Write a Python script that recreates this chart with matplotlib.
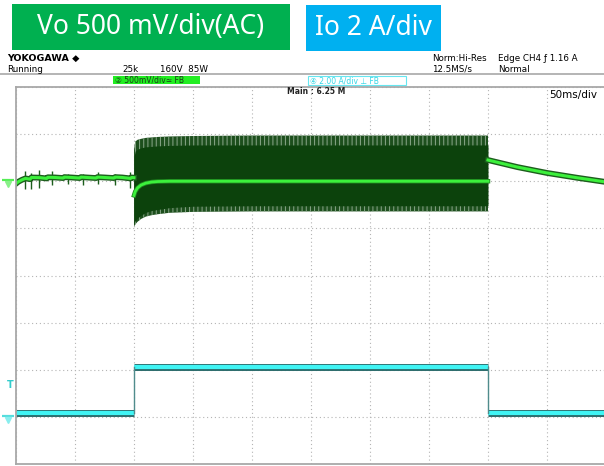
import matplotlib.pyplot as plt
import matplotlib.patheffects as pe
from matplotlib.patches import Rectangle
from matplotlib.lines import Line2D

# --- data ---
# Vo (ch2, AC coupled), mV, time in ms
t_pre = [0, 2, 5, 8, 12, 13, 20, 26, 27, 33, 40, 41, 47, 54, 55, 60, 68, 69, 75, 83, 84, 90, 97, 98, 100]
v_pre = [-25, -5, 15, 30, 22, 40, 38, 30, 42, 40, 34, 44, 40, 34, 44, 40, 34, 44, 40, 34, 44, 40, 30, 40, 38]

spike_t = [7.6, 12.7, 19.5, 30.5, 44, 57, 69.5, 84, 97]
spike_hi = [110, 90, 120, 110, 80, 75, 100, 80, 100]
spike_lo = [-80, -80, -70, -40, -30, -40, -30, -40, -70]

t_load = [100, 101, 103, 106, 110, 115, 120, 130, 150, 200, 250, 300, 350, 400]
v_mean = [-150, -110, -70, -40, -20, -8, -3, 0, 0, 0, 0, 0, 0, 0]
v_top_body = [260, 320, 340, 355, 365, 370, 375, 380, 385, 385, 385, 385, 385, 385]
v_top_peak = [330, 420, 440, 450, 460, 465, 470, 475, 480, 485, 485, 485, 485, 485]
v_bot_body = [-450, -420, -390, -360, -330, -310, -300, -280, -265, -260, -260, -260, -260, -260]
v_bot_peak = [-480, -460, -430, -400, -375, -360, -350, -335, -325, -320, -320, -320, -320, -320]

t_post = [400, 401, 410, 425, 450, 475, 500]
v_post = [225, 222, 195, 150, 88, 38, -8]

# Io (ch4), A
io_edges = [0, 100, 400, 500]
io_levels = [0.15, 2.12, 0.15]

vo_scale = 500.0   # mV/div
io_scale = 2.0     # A/div
vo_offset = 6      # div from bottom
io_offset = 1
trig_level = 1.16  # A

W, H = 604, 466


def fx(x):
    return x / W


def fy(y):
    return 1 - y / H


def vo(vals):
    return [vo_offset + v / vo_scale for v in vals]


plt.rcParams['hatch.linewidth'] = 0.7

fig = plt.figure(figsize=(6.04, 4.66), dpi=100)
fig.patch.set_facecolor('white')

ax = fig.add_axes([fx(16), fy(464), 590 / W, (464 - 87) / H])
ax.set_xlim(0, 500)
ax.set_ylim(0, 8)
ax.set_xticks(range(0, 501, 50))
ax.set_yticks(range(0, 9))
ax.tick_params(length=0, labelbottom=False, labelleft=False)
ax.grid(color='#b4b4b4', linestyle=(0, (1, 2.5)), linewidth=0.8)
ax.set_axisbelow(True)
for s in ['left', 'bottom', 'top']:
    ax.spines[s].set_color('#a8a8a8')
    ax.spines[s].set_linewidth(1.3)
ax.spines['right'].set_visible(False)

dark = '#0c420c'
bright = '#3cf03c'

# ripple band during load: solid core, streaky edges
ax.fill_between(t_load, vo(v_bot_peak), vo(v_top_peak), facecolor='#1d4f1d',
                edgecolor='#8aa88a', hatch='||||', lw=0)
ax.fill_between(t_load, vo(v_bot_body), vo(v_top_body), color=dark, lw=0)
ax.plot(t_load, vo(v_mean), color=bright, lw=2.0,
        path_effects=[pe.Stroke(linewidth=3.2, foreground='#1f8a1f'), pe.Normal()])

# before / after load
ax.vlines(spike_t, vo(spike_lo), vo(spike_hi), color='#1d5e1d', lw=1.0)
trace_fx = [pe.Stroke(linewidth=4.2, foreground='#1d5e1d'), pe.Normal()]
ax.plot(t_pre, vo(v_pre), color=bright, lw=2.2, path_effects=trace_fx)
ax.plot(t_post, vo(v_post), color=bright, lw=2.2, path_effects=trace_fx)

# load current
io_fx = [pe.Stroke(linewidth=5.0, foreground='#2b6b6b'), pe.Normal()]
for i, lev in enumerate(io_levels):
    y = io_offset + lev / io_scale
    ax.plot([io_edges[i], io_edges[i + 1]], [y, y], color='#40f4f4', lw=3.0,
            solid_capstyle='butt', path_effects=io_fx)
for i in range(1, len(io_levels)):
    y0 = io_offset + io_levels[i - 1] / io_scale
    y1 = io_offset + io_levels[i] / io_scale
    ax.plot([io_edges[i], io_edges[i]], [y0, y1], color='#4f8c8c', lw=1.0)

# ground and trigger markers on the left edge
ax.plot([-7], [vo_offset + 0.02], marker='_', ms=9, mew=1.6, color='#55ee55', clip_on=False)
ax.plot([-7], [vo_offset - 0.06], marker='v', ms=4, color='#88f088', clip_on=False)
ax.plot([-7], [io_offset + 0.02], marker='_', ms=9, mew=1.6, color='#55dddd', clip_on=False)
ax.plot([-7], [io_offset - 0.06], marker='v', ms=4, color='#88eeee', clip_on=False)
trig_y = io_offset + trig_level / io_scale
ax.text(-5, trig_y, 'T', color='#33cccc', fontsize=7, fontweight='bold',
        ha='center', va='bottom', clip_on=False)

# --- header boxes ---
fig.add_artist(Rectangle((fx(12), fy(50)), 278 / W, 46 / H, transform=fig.transFigure,
                         facecolor='#00b050', edgecolor='none'))
fig.text(fx(151), fy(27), 'Vo 500 mV/div(AC)', color='white', fontsize=19,
         family='Noto Sans', ha='center', va='center')
fig.add_artist(Rectangle((fx(306), fy(51)), 135 / W, 46 / H, transform=fig.transFigure,
                         facecolor='#00b0f0', edgecolor='none'))
fig.text(fx(373.5), fy(28), 'Io 2 A/div', color='white', fontsize=19,
         family='Noto Sans', ha='center', va='center')

# --- scope status line ---
small = ['DejaVu Sans Condensed', 'Liberation Sans Narrow', 'DejaVu Sans', 'Noto Sans CJK JP']
fig.text(fx(7), fy(58), 'YOKOGAWA \u25c6', fontsize=6.8, fontweight='bold',
         family=small, va='center')
fig.text(fx(7), fy(69), 'Running', fontsize=6.3, family=small, va='center')
fig.text(fx(122), fy(69), '25k', fontsize=6.3, family=small, va='center')
fig.text(fx(160), fy(69), '160V  85W', fontsize=6.3, family=small, va='center')
fig.text(fx(432), fy(58.5), 'Norm:Hi-Res', fontsize=6.3, family=small, va='center')
fig.text(fx(432), fy(69), '12.5MS/s', fontsize=6.3, family=small, va='center')
fig.text(fx(498), fy(58.5), 'Edge CH4 \u0192 1.16 A', fontsize=6.3, family=small, va='center')
fig.text(fx(498), fy(69), 'Normal', fontsize=6.3, family=small, va='center')
fig.add_artist(Line2D([0, 1], [fy(74), fy(74)], transform=fig.transFigure,
                      color='#a8a8a8', lw=1.2))

fig.add_artist(Rectangle((fx(113), fy(84)), 87 / W, 8 / H, transform=fig.transFigure,
                         facecolor='#22ee22', edgecolor='none'))
fig.text(fx(115), fy(80), '\u2461 500mV/div\u2243 FB', fontsize=5.5, family=small,
         va='center', color='#1a3a1a')
fig.add_artist(Rectangle((fx(308), fy(85)), 98 / W, 9 / H, transform=fig.transFigure,
                         facecolor='white', edgecolor='#66e6f0', lw=0.8))
fig.text(fx(310), fy(80.5), '\u2463 2.00 A/div \u22a5 FB', fontsize=5.5, family=small,
         va='center', color='#33d6e6')

fig.text(fx(287), fy(92), 'Main : 6.25 M', fontsize=5.5, fontweight='bold',
         family=small, va='center', color='#222222')
fig.text(fx(549), fy(95), '50ms/div', fontsize=7.5, family=small, va='center')

fig.savefig('out.png', dpi=100)
